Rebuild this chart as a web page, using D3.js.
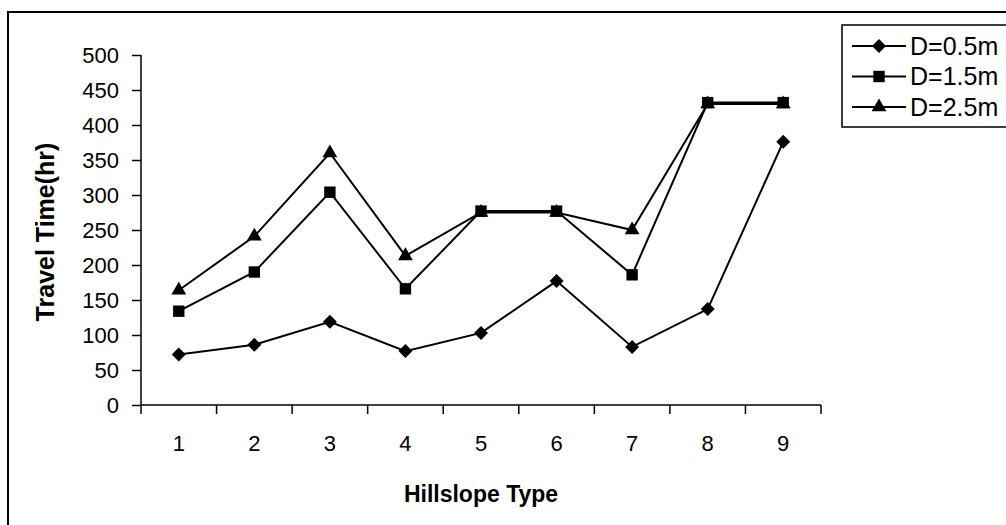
<!DOCTYPE html>
<html>
<head>
<meta charset="utf-8">
<script src="https://cdn.jsdelivr.net/npm/d3@7"></script>
<style>
  html, body { margin: 0; padding: 0; background: #fff; }
  svg { display: block; }
  text { font-family: "Liberation Sans", Arial, sans-serif; fill: #000; }
</style>
</head>
<body>
<svg id="chart" width="1006" height="525"></svg>
<script>
const categories = ["1", "2", "3", "4", "5", "6", "7", "8", "9"];
const seriesNames = ["D=0.5m", "D=1.5m", "D=2.5m"];
const d05 = [72, 86, 119, 77, 103, 177, 83, 137, 376];
const d15 = [134, 190, 304, 166, 277, 277, 186, 432, 432];
const d25 = [164, 241, 360, 213, 275, 275, 250, 430, 430];
const yTicks = [0, 50, 100, 150, 200, 250, 300, 350, 400, 450, 500];

// marker shapes
const diamond = { draw(ctx, size) { const r = Math.sqrt(size / 2); ctx.moveTo(0, -r); ctx.lineTo(r, 0); ctx.lineTo(0, r); ctx.lineTo(-r, 0); ctx.closePath(); } };
const symbols = [diamond, d3.symbolSquare, d3.symbolTriangle];
const symbolSizes = [98, 130, 95];

const series = [d05, d15, d25].map((vals, i) => ({ name: seriesNames[i], values: vals, symbol: symbols[i], size: symbolSizes[i] }));

const svg = d3.select("#chart");

// outer border
svg.append("rect").attr("x", 8).attr("y", 12).attr("width", 1020).attr("height", 530)
  .attr("fill", "none").attr("stroke", "#000").attr("stroke-width", 2);

const pLeft = 141, pRight = 821, pTop = 55, pBottom = 405;
const x = d3.scaleBand().domain(categories).range([pLeft, pRight]);
const y = d3.scaleLinear().domain([0, 500]).range([pBottom, pTop]);

// y axis
const yAxis = svg.append("g").attr("transform", `translate(${pLeft},0)`)
  .call(d3.axisLeft(y).tickValues(yTicks).tickSize(9).tickPadding(13));
yAxis.select(".domain").attr("stroke", "#000").attr("stroke-width", 1.5).attr("d", `M0,${pTop}V${pBottom}`);
yAxis.selectAll(".tick line").attr("stroke", "#000").attr("stroke-width", 1.5);
yAxis.selectAll("text").style("font-size", "22px").style("font-family", "Liberation Sans, Arial, sans-serif");

// x axis
const xAxis = svg.append("g").attr("transform", `translate(0,${pBottom})`)
  .call(d3.axisBottom(x).tickSize(0).tickPadding(30));
xAxis.select(".domain").attr("stroke", "#000").attr("stroke-width", 1.5).attr("d", `M${pLeft},0H${pRight}`);
xAxis.selectAll("text").style("font-size", "22px").style("font-family", "Liberation Sans, Arial, sans-serif");
// tick marks at category boundaries
const bounds = categories.map(c => x(c)).concat([pRight]);
svg.append("g").selectAll("line").data(bounds).join("line")
  .attr("x1", d => d).attr("x2", d => d).attr("y1", pBottom).attr("y2", pBottom + 9)
  .attr("stroke", "#000").attr("stroke-width", 1.5);

// axis titles
svg.append("text").attr("x", 481).attr("y", 502).attr("text-anchor", "middle")
  .style("font-size", "23px").style("font-weight", "bold").text("Hillslope Type");
svg.append("text").attr("transform", `translate(54,232) rotate(-90)`)
  .attr("text-anchor", "middle").style("font-size", "25px").style("font-weight", "bold").text("Travel Time(hr)");

// lines and markers
const line = d3.line().x((d, i) => x(categories[i]) + x.bandwidth() / 2).y(d => y(d));
series.forEach(s => {
  svg.append("path").datum(s.values).attr("d", line).attr("fill", "none")
    .attr("stroke", "#000").attr("stroke-width", 2);
  svg.append("g").selectAll("path").data(s.values).join("path")
    .attr("transform", (d, i) => `translate(${x(categories[i]) + x.bandwidth() / 2},${y(d)})`)
    .attr("d", d3.symbol().type(s.symbol).size(s.size)).attr("fill", "#000");
});

// legend
const lg = svg.append("g");
lg.append("rect").attr("x", 842).attr("y", 25).attr("width", 200).attr("height", 102)
  .attr("fill", "#fff").attr("stroke", "#000").attr("stroke-width", 1.5);
const rows = lg.selectAll("g").data(series).join("g")
  .attr("transform", (d, i) => `translate(0,${46 + i * 30.5})`);
rows.append("line").attr("x1", 852).attr("x2", 906).attr("y1", 0).attr("y2", 0)
  .attr("stroke", "#000").attr("stroke-width", 2);
rows.append("path").attr("transform", "translate(879,0)")
  .attr("d", d => d3.symbol().type(d.symbol).size(d.size)()).attr("fill", "#000");
rows.append("text").attr("x", 910).attr("y", 0).attr("dy", "0.35em")
  .style("font-size", "25px").text(d => d.name);
</script>
</body>
</html>
